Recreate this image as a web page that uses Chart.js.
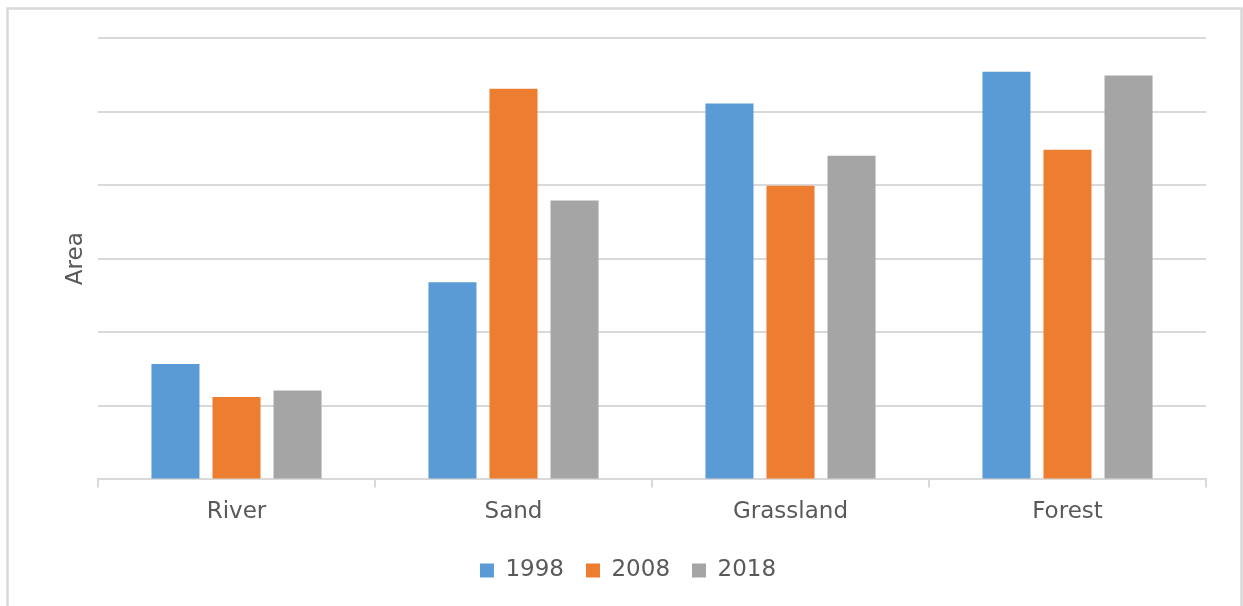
<!DOCTYPE html>
<html>
<head>
<meta charset="utf-8">
<script src="https://cdn.jsdelivr.net/npm/chart.js@4/dist/chart.umd.min.js"></script>
<style>
  html, body { margin: 0; padding: 0; background: #ffffff; }
  #wrap { position: relative; width: 1243px; height: 606px; }
</style>
</head>
<body>
<div id="wrap"><canvas id="chart" width="1243" height="606"></canvas></div>
<script>
// Land-cover categories and area per survey year
const categories = ['River', 'Sand', 'Grassland', 'Forest'];
const years = ['1998', '2008', '2018'];
const area1998 = [1.57, 2.68, 5.11, 5.54];
const area2008 = [1.12, 5.31, 3.99, 4.48];
const area2018 = [1.21, 3.79, 4.40, 5.49];
const axisTitle = 'Area';

const palette = ['#5B9BD5', '#ED7D31', '#A5A5A5'];
const gridColor = '#D9D9D9';
const textColor = '#595959';
const fontFamily = '"DejaVu Sans", sans-serif';

// Light frame around the whole chart
const framePlugin = {
  id: 'frame',
  beforeDraw(chart) {
    const ctx = chart.ctx;
    ctx.save();
    ctx.fillStyle = '#ffffff';
    ctx.fillRect(0, 0, chart.width, chart.height);
    ctx.strokeStyle = gridColor;
    ctx.lineWidth = 2.5;
    ctx.strokeRect(7.5, 8.5, 1234, 640);
    ctx.restore();
  }
};

const seriesValues = [area1998, area2008, area2018];

new Chart(document.getElementById('chart'), {
  type: 'bar',
  data: {
    labels: categories,
    datasets: years.map((y, i) => ({
      label: y,
      data: seriesValues[i],
      backgroundColor: palette[i],
      borderWidth: 0,
      categoryPercentage: 0.661,
      barPercentage: 0.787
    }))
  },
  options: {
    responsive: false,
    animation: false,
    layout: { padding: { left: 50, right: 37, top: 38, bottom: 14 } },
    plugins: {
      tooltip: { enabled: false },
      legend: {
        position: 'bottom',
        labels: {
          boxWidth: 14,
          boxHeight: 14,
          padding: 22,
          color: textColor,
          font: { family: fontFamily, size: 23 }
        }
      }
    },
    scales: {
      x: {
        offset: true,
        grid: {
          offset: true,
          drawOnChartArea: false,
          drawTicks: true,
          tickLength: 8,
          color: gridColor,
          lineWidth: 2
        },
        border: { display: true, color: gridColor, width: 2 },
        ticks: {
          color: textColor,
          padding: 11,
          font: { family: fontFamily, size: 23 }
        }
      },
      y: {
        min: 0,
        max: 6,
        afterFit(scale) { scale.width = 48; },
        ticks: { display: false, stepSize: 1 },
        grid: { color: gridColor, lineWidth: 2, drawTicks: false },
        border: { display: false },
        title: {
          display: true,
          text: axisTitle,
          color: textColor,
          padding: { top: 12, bottom: 0 },
          font: { family: fontFamily, size: 23 }
        }
      }
    }
  },
  plugins: [framePlugin]
});
</script>
</body>
</html>
